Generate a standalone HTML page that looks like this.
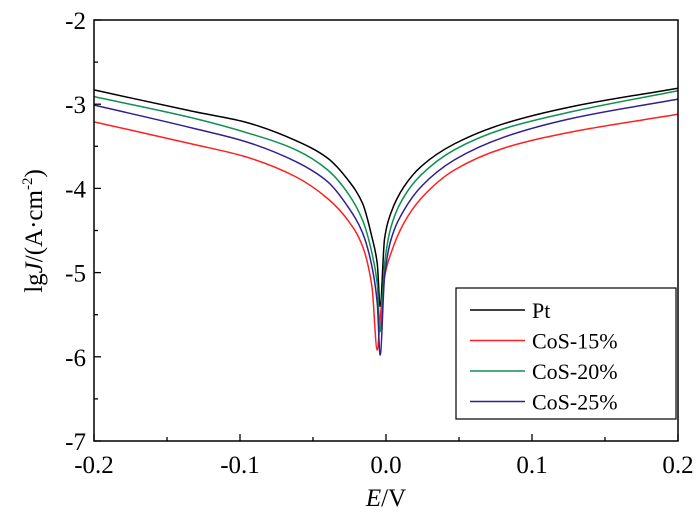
<!DOCTYPE html>
<html><head><meta charset="utf-8"><style>
body{margin:0;background:#fff}
svg{display:block;font-family:"Liberation Serif",serif}
</style></head><body>
<svg id="chart" width="700" height="517">
<g id="series"></g>
<rect x="94" y="20" width="584" height="421" fill="none" stroke="#000" stroke-width="1.5"/>
<g id="ticks"></g>
<text x="386" y="506" font-size="25" text-anchor="middle"><tspan font-style="italic">E</tspan>/V</text>
<text transform="translate(42,231) rotate(-90)" font-size="25" text-anchor="middle">lg<tspan font-style="italic">J</tspan>/(A·cm<tspan font-size="15" dy="-10">-2</tspan><tspan dy="10">)</tspan></text>
<g>
<rect x="456" y="288" width="220" height="131" fill="#fff" stroke="#000" stroke-width="1.2"/>
<g id="legend"></g>
</g>
</svg>
<script>
const E=[-0.2,-0.131,-0.097,-0.062,-0.040,-0.026,-0.016,-0.0096,-0.006,-0.004,-0.001,0.0034,0.0123,0.024,0.047,0.081,0.127,0.2];
const names=["Pt","CoS-15%","CoS-20%","CoS-25%"];
const colors=["#000000","#ff2020","#109050","#302090"];
const pt=[-2.83,-3.09,-3.21,-3.43,-3.64,-3.90,-4.18,-4.58,-4.89,-5.40,-4.60,-4.29,-3.98,-3.74,-3.47,-3.23,-3.03,-2.81];
const cos15=[-3.21,-3.48,-3.62,-3.86,-4.12,-4.38,-4.69,-5.17,-5.92,-5.55,-5.05,-4.77,-4.41,-4.12,-3.78,-3.52,-3.33,-3.12];
const cos20=[-2.91,-3.17,-3.33,-3.54,-3.78,-4.06,-4.38,-4.77,-5.13,-5.70,-4.90,-4.46,-4.10,-3.84,-3.54,-3.29,-3.09,-2.84];
const cos25=[-3.01,-3.29,-3.44,-3.68,-3.92,-4.22,-4.53,-4.93,-5.36,-5.98,-5.05,-4.61,-4.26,-3.98,-3.66,-3.39,-3.17,-2.94];
const xTicks=[-0.2,-0.1,0.0,0.1,0.2];
const xTickLabels=["-0.2","-0.1","0.0","0.1","0.2"];
const yTicks=[-2,-3,-4,-5,-6,-7];
const yTickLabels=["-2","-3","-4","-5","-6","-7"];
const NS="http://www.w3.org/2000/svg";
const X0=94,X1=678,Y0=20,Y1=441;
function sx(v){return X0+(v+0.2)/0.4*(X1-X0);}
function sy(v){return Y0+(-2-v)/5*(Y1-Y0);}
function mk(t,a,p){const e=document.createElementNS(NS,t);for(const k in a)e.setAttribute(k,a[k]);p.appendChild(e);return e;}
function monoPath(xs,ys){
 const n=xs.length,d=[],m=[];
 for(let i=0;i<n-1;i++)d.push((ys[i+1]-ys[i])/(xs[i+1]-xs[i]));
 m[0]=d[0];m[n-1]=d[n-2];
 for(let i=1;i<n-1;i++){
  if(d[i-1]*d[i]<=0){m[i]=0;continue;}
  const h0=xs[i]-xs[i-1],h1=xs[i+1]-xs[i];
  const w1=2*h1+h0,w2=h1+2*h0;
  m[i]=(w1+w2)/(w1/d[i-1]+w2/d[i]);
 }
 let s='M'+xs[0].toFixed(2)+','+ys[0].toFixed(2);
 for(let i=0;i<n-1;i++){const h=(xs[i+1]-xs[i])/3;
  s+=' C'+(xs[i]+h).toFixed(2)+','+(ys[i]+m[i]*h).toFixed(2)+' '+(xs[i+1]-h).toFixed(2)+','+(ys[i+1]-m[i+1]*h).toFixed(2)+' '+xs[i+1].toFixed(2)+','+ys[i+1].toFixed(2);}
 return s;
}
const tk=document.getElementById('ticks');
xTicks.forEach((v,i)=>{
 const l=mk('line',{x1:sx(v),x2:sx(v),y1:Y1,y2:Y1-7,stroke:'#000','stroke-width':1.3},tk);
 
 
 if(i<xTicks.length-1){const m=(v+xTicks[i+1])/2;
  const ml=mk('line',{x1:sx(m),x2:sx(m),y1:Y1,y2:Y1-4,stroke:'#000','stroke-width':1.3},tk);
  
  }
 const t=mk('text',{x:sx(v),y:Y1+32,'font-size':25,'text-anchor':'middle'},tk);t.textContent=xTickLabels[i];
 
 
});
yTicks.forEach((v,i)=>{
 const l=mk('line',{x1:X0,x2:X0+7,y1:sy(v),y2:sy(v),stroke:'#000','stroke-width':1.3},tk);
 
 
 if(i<yTicks.length-1){const m=(v+yTicks[i+1])/2;
  const ml=mk('line',{x1:X0,x2:X0+4,y1:sy(m),y2:sy(m),stroke:'#000','stroke-width':1.3},tk);
  
  }
 const t=mk('text',{x:X0-8,y:sy(v)+9,'font-size':25,'text-anchor':'end'},tk);t.textContent=yTickLabels[i];
 
 
});
const sg=document.getElementById('series');
const data=[pt,cos15,cos20,cos25];
data.forEach((s,k)=>{
 const p=mk('path',{d:monoPath(E.map(sx),s.map(sy)),fill:'none',stroke:colors[k],'stroke-width':1.5,'stroke-linejoin':'round'},sg);
 
 
});
const lg=document.getElementById('legend');
names.forEach((n,k)=>{
 const y=310+k*30.5;
 const l=mk('line',{x1:470,x2:525,y1:y,y2:y,stroke:colors[k],'stroke-width':1.5},lg);
 
 
 const t=mk('text',{x:532,y:y+8,'font-size':22},lg);t.textContent=n;
 
 
});
</script>
</body></html>
